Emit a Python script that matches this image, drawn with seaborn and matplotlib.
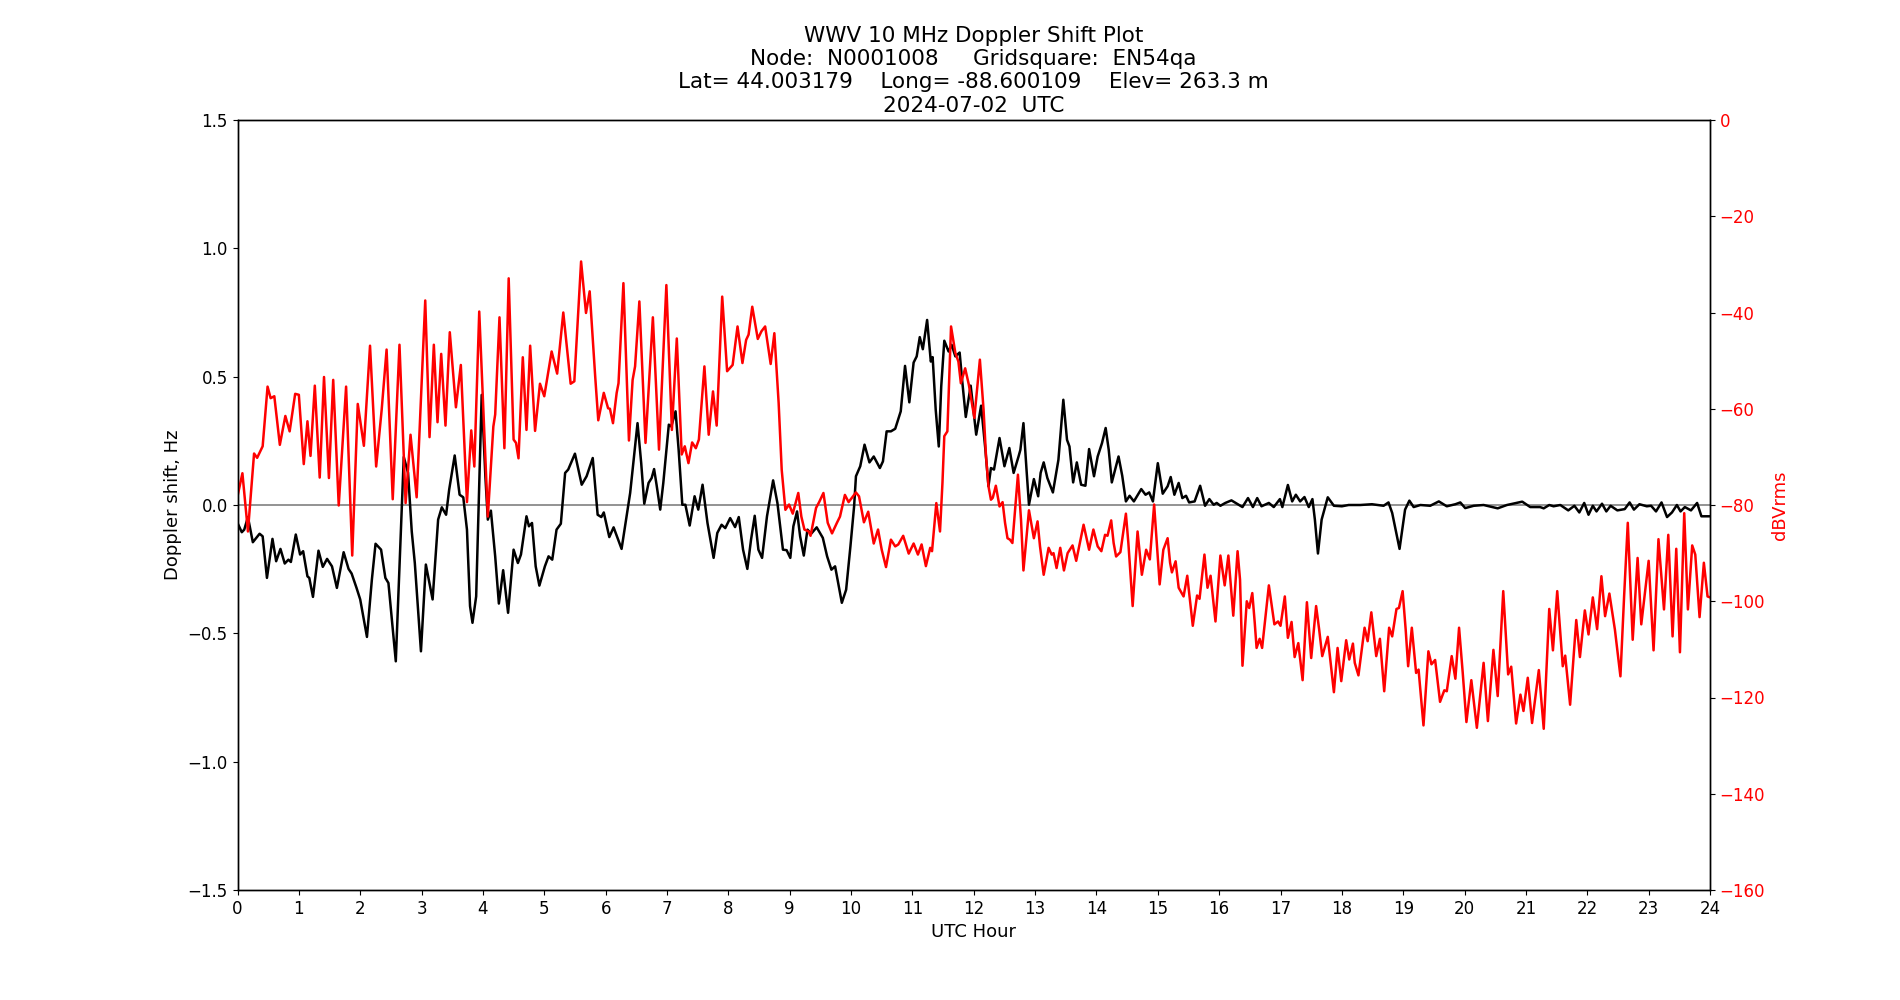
import numpy as np
import pandas as pd
import seaborn as sns
import matplotlib
matplotlib.use("Agg")
import matplotlib.pyplot as plt

# Doppler shift trace (UTC hour, Hz)
doppler_hours = [
    0.0, 0.07, 0.11, 0.17, 0.25, 0.36, 0.41, 0.48, 0.57, 0.63, 0.70, 0.77, 0.83, 0.87, 0.95,
    1.02, 1.07, 1.14, 1.17, 1.23, 1.32, 1.39, 1.46, 1.54, 1.62, 1.73, 1.81, 1.86, 1.94, 2.00,
    2.11, 2.19, 2.25, 2.34, 2.41, 2.46, 2.58, 2.71, 2.78, 2.84, 2.89, 2.99, 3.07, 3.18, 3.27,
    3.33, 3.40, 3.45, 3.54, 3.62, 3.68, 3.74, 3.79, 3.83, 3.89, 3.98, 4.04, 4.08, 4.13, 4.20,
    4.26, 4.33, 4.41, 4.50, 4.57, 4.62, 4.71, 4.75, 4.80, 4.86, 4.92, 5.01, 5.07, 5.13, 5.20,
    5.27, 5.34, 5.39, 5.50, 5.61, 5.69, 5.79, 5.87, 5.93, 5.97, 6.06, 6.13, 6.26, 6.35, 6.40,
    6.52, 6.58, 6.63, 6.70, 6.75, 6.79, 6.83, 6.89, 6.94, 7.03, 7.07, 7.14, 7.19, 7.25, 7.30,
    7.37, 7.45, 7.51, 7.58, 7.66, 7.76, 7.82, 7.89, 7.95, 8.03, 8.11, 8.17, 8.24, 8.31, 8.37,
    8.43, 8.49, 8.55, 8.63, 8.73, 8.80, 8.89, 8.95, 9.01, 9.06, 9.12, 9.17, 9.23, 9.29, 9.35,
    9.44, 9.54, 9.61, 9.68, 9.74, 9.79, 9.85, 9.92, 9.99, 10.05, 10.08, 10.15, 10.22, 10.30,
    10.37, 10.47, 10.52, 10.58, 10.65, 10.72, 10.81, 10.88, 10.95, 11.02, 11.07, 11.12, 11.17,
    11.24, 11.30, 11.33, 11.38, 11.43, 11.47, 11.52, 11.59, 11.64, 11.70, 11.77, 11.81, 11.87,
    11.95, 12.04, 12.12, 12.19, 12.24, 12.28, 12.33, 12.42, 12.50, 12.58, 12.65, 12.73, 12.76,
    12.81, 12.86, 12.90, 12.98, 13.05, 13.09, 13.14, 13.20, 13.29, 13.38, 13.46, 13.52, 13.56,
    13.62, 13.68, 13.75, 13.82, 13.88, 13.96, 14.02, 14.09, 14.15, 14.20, 14.25, 14.36, 14.42,
    14.48, 14.54, 14.61, 14.73, 14.80, 14.86, 14.92, 15.00, 15.08, 15.16, 15.21, 15.27, 15.34,
    15.40, 15.46, 15.51, 15.60, 15.69, 15.77, 15.84, 15.91, 15.96, 16.02, 16.10, 16.20, 16.29,
    16.38, 16.47, 16.55, 16.62, 16.69, 16.81, 16.89, 16.99, 17.03, 17.12, 17.19, 17.25, 17.32,
    17.39, 17.46, 17.52, 17.56, 17.61, 17.67, 17.77, 17.87, 18.00, 18.11, 18.30, 18.49, 18.68,
    18.76, 18.82, 18.94, 19.03, 19.10, 19.17, 19.28, 19.44, 19.58, 19.71, 19.85, 19.93, 20.01,
    20.15, 20.31, 20.54, 20.69, 20.94, 21.07, 21.23, 21.29, 21.38, 21.45, 21.56, 21.69, 21.79,
    21.87, 21.95, 22.02, 22.09, 22.15, 22.24, 22.31, 22.38, 22.49, 22.61, 22.69, 22.76, 22.85,
    22.97, 23.04, 23.12, 23.21, 23.30, 23.38, 23.46, 23.52, 23.59, 23.69, 23.79, 23.86, 24.0,
]
doppler_hz = [
    -0.070, -0.106, -0.096, -0.047, -0.145, -0.112, -0.122, -0.284, -0.132, -0.219, -0.171,
    -0.228, -0.213, -0.222, -0.115, -0.193, -0.180, -0.278, -0.284, -0.358, -0.178, -0.241,
    -0.210, -0.239, -0.323, -0.184, -0.249, -0.267, -0.323, -0.368, -0.514, -0.291, -0.151,
    -0.174, -0.284, -0.304, -0.609, 0.187, 0.125, -0.103, -0.226, -0.570, -0.232, -0.368,
    -0.057, -0.009, -0.038, 0.060, 0.193, 0.040, 0.030, -0.096, -0.394, -0.459, -0.356, 0.429,
    0.112, -0.057, -0.022, -0.200, -0.384, -0.254, -0.420, -0.174, -0.226, -0.193, -0.044,
    -0.083, -0.070, -0.239, -0.314, -0.239, -0.200, -0.213, -0.096, -0.073, 0.125, 0.138,
    0.200, 0.079, 0.112, 0.183, -0.038, -0.047, -0.029, -0.125, -0.087, -0.171, -0.031, 0.047,
    0.319, 0.163, 0.005, 0.086, 0.105, 0.140, 0.079, -0.018, 0.086, 0.313, 0.306, 0.365, 0.215,
    0.001, 0.001, -0.080, 0.034, -0.018, 0.079, -0.070, -0.206, -0.109, -0.077, -0.090, -0.051,
    -0.086, -0.047, -0.174, -0.249, -0.135, -0.042, -0.174, -0.206, -0.044, 0.096, 0.008,
    -0.174, -0.176, -0.206, -0.083, -0.025, -0.122, -0.197, -0.096, -0.112, -0.087, -0.128,
    -0.200, -0.252, -0.239, -0.304, -0.381, -0.330, -0.161, -0.005, 0.112, 0.151, 0.235, 0.166,
    0.189, 0.144, 0.170, 0.287, 0.287, 0.297, 0.365, 0.542, 0.400, 0.555, 0.579, 0.654, 0.607,
    0.721, 0.559, 0.576, 0.371, 0.228, 0.462, 0.640, 0.598, 0.624, 0.579, 0.594, 0.488, 0.343,
    0.465, 0.274, 0.387, 0.215, 0.073, 0.144, 0.138, 0.261, 0.151, 0.222, 0.125, 0.189, 0.215,
    0.319, 0.138, 0.001, 0.101, 0.034, 0.125, 0.166, 0.105, 0.049, 0.176, 0.410, 0.254, 0.228,
    0.088, 0.166, 0.079, 0.075, 0.218, 0.112, 0.189, 0.241, 0.300, 0.215, 0.088, 0.189, 0.114,
    0.014, 0.036, 0.014, 0.062, 0.040, 0.049, 0.014, 0.163, 0.044, 0.073, 0.109, 0.040, 0.086,
    0.027, 0.036, 0.010, 0.014, 0.075, -0.003, 0.023, 0.001, 0.008, -0.003, 0.008, 0.018, 0.005,
    -0.008, 0.027, -0.008, 0.027, -0.005, 0.008, -0.008, 0.023, -0.008, 0.078, 0.014, 0.040,
    0.014, 0.031, -0.008, 0.023, -0.057, -0.189, -0.057, 0.030, -0.003, -0.005, 0.0, 0.0, 0.003,
    -0.003, 0.010, -0.031, -0.171, -0.018, 0.017, -0.008, 0.0, -0.003, 0.014, -0.005, 0.003,
    0.010, -0.012, -0.003, 0.0, -0.013, 0.0, 0.013, -0.008, -0.008, -0.013, 0.0, -0.005, 0.0,
    -0.021, -0.003, -0.029, 0.008, -0.038, -0.003, -0.025, 0.005, -0.025, -0.003, -0.021,
    -0.016, 0.010, -0.018, 0.003, -0.005, -0.003, -0.025, 0.010, -0.047, -0.029, 0.0, -0.025,
    -0.008, -0.021, 0.008, -0.044, -0.044,
]

# Received signal level (UTC hour, dBVrms)
level_hours = [
    0.0, 0.08, 0.17, 0.27, 0.32, 0.41, 0.49, 0.54, 0.60, 0.69, 0.78, 0.85, 0.94, 1.00, 1.08,
    1.14, 1.19, 1.26, 1.34, 1.41, 1.49, 1.56, 1.65, 1.77, 1.87, 1.96, 2.06, 2.16, 2.26, 2.35,
    2.43, 2.53, 2.64, 2.74, 2.82, 2.92, 3.06, 3.13, 3.20, 3.26, 3.32, 3.39, 3.46, 3.56, 3.64,
    3.74, 3.81, 3.86, 3.94, 4.08, 4.17, 4.20, 4.27, 4.35, 4.42, 4.50, 4.54, 4.58, 4.65, 4.71,
    4.77, 4.85, 4.93, 5.00, 5.12, 5.21, 5.31, 5.43, 5.49, 5.60, 5.68, 5.74, 5.83, 5.88, 5.97,
    6.04, 6.07, 6.12, 6.18, 6.21, 6.29, 6.38, 6.44, 6.48, 6.55, 6.65, 6.77, 6.87, 6.99, 7.08,
    7.16, 7.24, 7.29, 7.35, 7.41, 7.47, 7.52, 7.61, 7.68, 7.75, 7.81, 7.90, 7.98, 8.07, 8.15,
    8.23, 8.29, 8.33, 8.39, 8.48, 8.54, 8.60, 8.69, 8.75, 8.82, 8.87, 8.93, 8.99, 9.05, 9.14,
    9.19, 9.24, 9.31, 9.34, 9.43, 9.48, 9.55, 9.62, 9.69, 9.77, 9.82, 9.90, 9.96, 10.08, 10.13,
    10.21, 10.28, 10.37, 10.44, 10.50, 10.57, 10.65, 10.72, 10.77, 10.85, 10.94, 11.02, 11.09,
    11.15, 11.22, 11.29, 11.32, 11.39, 11.45, 11.49, 11.52, 11.57, 11.63, 11.70, 11.75, 11.79,
    11.86, 11.92, 12.01, 12.10, 12.16, 12.20, 12.24, 12.28, 12.31, 12.36, 12.42, 12.47, 12.51,
    12.55, 12.59, 12.63, 12.72, 12.77, 12.81, 12.90, 12.98, 13.04, 13.08, 13.14, 13.22, 13.27,
    13.30, 13.35, 13.41, 13.47, 13.53, 13.61, 13.67, 13.79, 13.88, 13.95, 14.02, 14.08, 14.14,
    14.18, 14.24, 14.28, 14.32, 14.39, 14.48, 14.52, 14.59, 14.67, 14.74, 14.81, 14.87, 14.94,
    15.03, 15.09, 15.16, 15.20, 15.23, 15.29, 15.34, 15.42, 15.48, 15.57, 15.64, 15.68, 15.76,
    15.81, 15.86, 15.94, 16.02, 16.09, 16.15, 16.23, 16.30, 16.34, 16.38, 16.45, 16.49, 16.54,
    16.58, 16.61, 16.66, 16.70, 16.81, 16.90, 16.96, 17.00, 17.07, 17.12, 17.18, 17.23, 17.29,
    17.36, 17.43, 17.50, 17.58, 17.63, 17.68, 17.77, 17.87, 17.93, 17.99, 18.07, 18.12, 18.18,
    18.21, 18.27, 18.37, 18.42, 18.48, 18.56, 18.62, 18.69, 18.77, 18.82, 18.89, 18.93, 18.99,
    19.04, 19.08, 19.14, 19.21, 19.25, 19.33, 19.41, 19.46, 19.52, 19.60, 19.67, 19.71, 19.79,
    19.85, 19.91, 19.97, 20.03, 20.11, 20.20, 20.31, 20.38, 20.47, 20.54, 20.63, 20.71, 20.76,
    20.84, 20.91, 20.96, 21.03, 21.10, 21.21, 21.29, 21.38, 21.44, 21.51, 21.60, 21.64, 21.72,
    21.82, 21.88, 21.96, 22.02, 22.09, 22.16, 22.23, 22.29, 22.36, 22.45, 22.54, 22.60, 22.66,
    22.74, 22.82, 22.88, 23.00, 23.08, 23.16, 23.25, 23.32, 23.39, 23.45, 23.51, 23.58, 23.64,
    23.71, 23.76, 23.83, 23.90, 23.96, 24.0,
]
level_db = [
    -78.2, -73.4, -85.5, -69.3, -70.2, -67.8, -55.4, -57.8, -57.4, -67.5, -61.5, -64.7, -56.9,
    -57.1, -71.5, -62.6, -69.8, -55.2, -74.3, -53.4, -74.4, -54.0, -80.1, -55.4, -90.5, -59.0,
    -67.7, -46.9, -72.0, -60.2, -47.7, -78.8, -46.7, -79.6, -65.4, -78.4, -37.5, -65.9, -46.7,
    -62.8, -48.6, -63.5, -44.1, -59.7, -50.9, -79.4, -64.5, -72.0, -39.8, -82.4, -63.7, -61.2,
    -41.0, -68.2, -32.9, -66.4, -67.1, -70.3, -49.3, -64.4, -46.9, -64.6, -54.8, -57.4, -48.1,
    -52.7, -40.0, -54.8, -54.3, -29.4, -40.1, -35.6, -53.3, -62.4, -56.7, -59.9, -60.0, -63.0,
    -56.7, -54.7, -33.9, -66.6, -54.0, -51.2, -37.7, -67.1, -41.0, -68.5, -34.3, -64.4, -45.4,
    -69.5, -67.8, -71.3, -67.0, -68.2, -66.4, -51.2, -65.4, -56.4, -63.5, -36.7, -52.2, -50.9,
    -42.9, -50.5, -45.7, -44.6, -38.8, -45.5, -43.9, -42.9, -50.7, -44.3, -58.8, -72.7, -81.0,
    -79.9, -81.8, -77.5, -82.4, -85.1, -85.5, -86.4, -80.6, -79.4, -77.5, -83.7, -85.9, -83.7,
    -82.4, -77.9, -79.4, -77.4, -78.2, -83.6, -81.4, -88.0, -85.1, -89.3, -92.9, -87.2, -88.6,
    -88.2, -86.4, -90.1, -88.0, -90.3, -88.2, -92.7, -88.9, -89.6, -79.6, -85.5, -75.4, -65.7,
    -64.7, -42.9, -48.4, -50.2, -54.7, -51.6, -55.0, -61.9, -49.8, -60.2, -69.9, -76.1, -78.9,
    -78.5, -76.0, -80.3, -79.4, -83.7, -86.9, -87.2, -87.9, -73.7, -83.0, -93.6, -81.1, -86.9,
    -83.4, -88.6, -94.5, -88.9, -90.3, -90.0, -93.1, -88.9, -93.6, -90.0, -88.4, -91.6, -84.1,
    -89.3, -85.1, -88.6, -89.6, -86.2, -86.4, -83.2, -87.9, -90.7, -89.8, -81.8, -87.9, -101.0,
    -85.5, -94.5, -89.3, -91.3, -79.9, -96.5, -89.3, -86.9, -92.0, -94.0, -91.7, -97.2, -99.0,
    -94.7, -105.1, -98.8, -99.5, -90.3, -97.2, -94.7, -104.2, -90.5, -96.7, -90.5, -103.0,
    -89.6, -95.5, -113.4, -100.0, -101.4, -98.3, -104.5, -109.7, -107.8, -109.7, -96.7, -104.8,
    -104.2, -105.1, -99.0, -107.6, -104.3, -111.6, -108.7, -116.4, -100.2, -111.8, -101.0,
    -105.9, -111.4, -107.4, -118.9, -109.7, -116.6, -108.1, -112.1, -108.8, -112.8, -115.4,
    -105.5, -108.3, -102.3, -111.4, -107.8, -118.7, -105.5, -107.3, -101.6, -101.4, -97.9,
    -105.9, -113.5, -105.5, -114.9, -114.2, -125.8, -110.4, -113.1, -112.2, -120.9, -118.5,
    -118.7, -111.4, -116.1, -105.5, -114.9, -125.1, -116.4, -126.3, -112.8, -124.9, -110.1,
    -119.7, -97.9, -115.2, -113.6, -125.4, -119.4, -122.8, -115.9, -125.3, -114.3, -126.5,
    -101.6, -110.2, -97.9, -113.5, -111.3, -121.5, -103.9, -111.6, -101.9, -106.9, -99.2,
    -105.8, -94.8, -103.1, -98.4, -105.9, -115.6, -99.0, -83.7, -108.0, -91.0, -104.8, -91.6,
    -110.2, -87.1, -101.7, -86.2, -107.3, -89.1, -110.6, -81.7, -101.7, -88.4, -90.3, -103.3,
    -92.0, -99.0, -99.2,
]

title = ("WWV 10 MHz Doppler Shift Plot\n"
         "Node:  N0001008     Gridsquare:  EN54qa\n"
         "Lat= 44.003179    Long= -88.600109    Elev= 263.3 m\n"
         "2024-07-02  UTC")

doppler = pd.DataFrame({"Hour": doppler_hours, "Doppler": doppler_hz})
level = pd.DataFrame({"Hour": level_hours, "dB": level_db})

sns.set_style("ticks")
plt.rcParams["font.family"] = ["DejaVu Sans"]
# plain black text and ticks, like a default matplotlib figure
plt.rcParams.update({
    "text.color": "black",
    "axes.labelcolor": "black",
    "xtick.color": "black",
    "ytick.color": "black",
    "axes.edgecolor": "black",
})

fig, ax = plt.subplots(figsize=(19, 10), dpi=100)
fig.subplots_adjust(left=0.125, right=0.9, bottom=0.11, top=0.88)

ax.axhline(0, color="grey", lw=1.2, zorder=1)
sns.lineplot(data=doppler, x="Hour", y="Doppler", color="black", lw=1.8,
             estimator=None, sort=False, ax=ax)
ax.set_xlim(0, 24)
ax.set_ylim(-1.5, 1.5)
ax.set_xticks(np.arange(0, 25, 1))
ax.set_yticks(np.arange(-1.5, 1.51, 0.5))
ax.set_xlabel("UTC Hour", fontsize=13)
ax.set_ylabel("Doppler shift, Hz", fontsize=13)
ax.tick_params(labelsize=12)
ax.set_title(title, fontsize=15.5)

ax2 = ax.twinx()
sns.lineplot(data=level, x="Hour", y="dB", color="red", lw=1.8,
             estimator=None, sort=False, ax=ax2)
ax2.set_ylim(-160, 0)
ax2.set_yticks(np.arange(-160, 1, 20))
ax2.set_ylabel("dBVrms", color="red", fontsize=13)
ax2.tick_params(axis="y", labelcolor="red", labelsize=12)

for a in (ax, ax2):
    for s in a.spines.values():
        s.set_visible(True)
        s.set_color("black")
        s.set_linewidth(1)

fig.savefig("out.png", dpi=100)
